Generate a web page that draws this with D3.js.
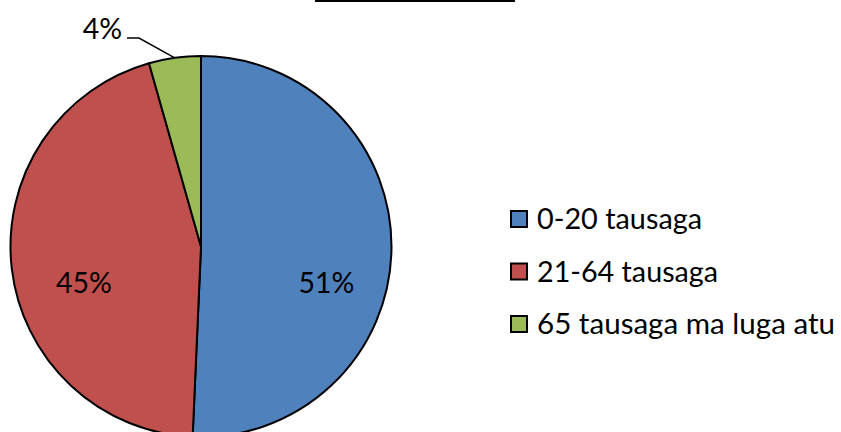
<!DOCTYPE html>
<html><head><meta charset="utf-8">
<script src="https://cdn.jsdelivr.net/npm/d3@7"></script>
<style>body{margin:0;background:#fff}svg{display:block}text{font-family:Lato,"Open Sans",sans-serif;fill:#000}</style>
</head><body>
<svg id="c" width="841" height="432"></svg>
<script>
const categories = ["0-20 tausaga", "21-64 tausaga", "65 tausaga ma luga atu"];
const values = [50.7, 44.9, 4.4];
const labels = ["51%", "45%", "4%"];
const colors = ["#4F81BD", "#C0504D", "#9BBB59"];

const svg = d3.select("#c");
const cx = 201, cy = 246.5, r = 190.5;

// title underline remnant
svg.append("line").attr("x1",315).attr("x2",515).attr("y1",1).attr("y2",1)
  .attr("stroke","#000").attr("stroke-width",2);

const pie = d3.pie().sort(null).value(d=>d)(values);
const arc = d3.arc().innerRadius(0).outerRadius(r);
const g = svg.append("g").attr("transform",`translate(${cx},${cy})`);
g.selectAll("path").data(pie).join("path")
  .attr("d",arc).attr("fill",(d,i)=>colors[i])
  .attr("stroke","#000").attr("stroke-width",2).attr("stroke-linejoin","round");

const fs = 28.5;
const inPos = [[326.5, 293], [84, 293]];
[0,1].forEach(i=>{
  g.append("text").attr("x", inPos[i][0]-cx).attr("y", inPos[i][1]-cy)
    .attr("text-anchor","middle").attr("font-size",fs).text(labels[i]);
});
// outside label with leader
const pg = pie[2];
const mid = (pg.startAngle+pg.endAngle)/2;
const ex = Math.sin(mid)*r, ey = -Math.cos(mid)*r;
g.append("polyline")
  .attr("points",`${ex},${ey} ${139-cx},${38-cy} ${127-cx},${38-cy}`)
  .attr("fill","none").attr("stroke","#000").attr("stroke-width",1.5);
g.append("text").attr("x",122-cx).attr("y",39-cy).attr("text-anchor","end")
  .attr("font-size",fs).text(labels[2]);

// legend
const lg = svg.append("g");
const y0 = 210, step = 52.5;
const widths = [165, 181, 298];
categories.forEach((c,i)=>{
  lg.append("rect").attr("x",511).attr("y",y0+i*step+1).attr("width",16).attr("height",16)
    .attr("fill",colors[i]).attr("stroke","#000").attr("stroke-width",2);
  lg.append("text").attr("x",537).attr("y",y0+i*step+19).attr("font-size",28.5)
    .attr("textLength",widths[i]).attr("lengthAdjust","spacingAndGlyphs").text(c);
});
</script>
</body></html>
